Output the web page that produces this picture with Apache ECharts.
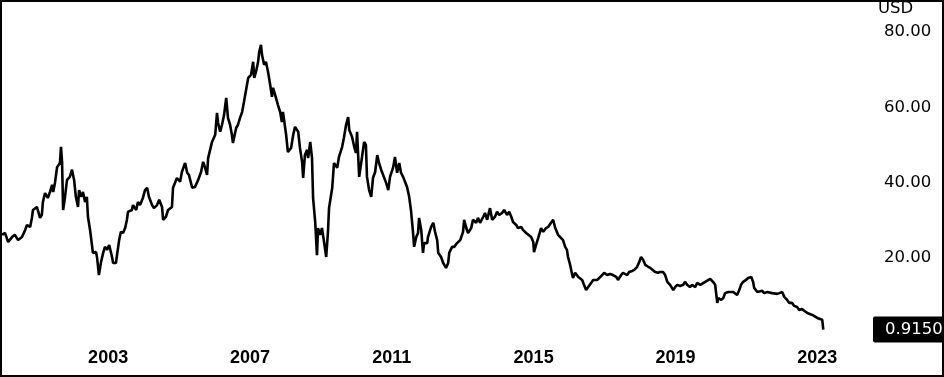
<!DOCTYPE html>
<html><head><meta charset="utf-8">
<script src="https://cdn.jsdelivr.net/npm/echarts@6/dist/echarts.min.js"></script>
<style>html,body{margin:0;padding:0;background:#fff}#c{width:944px;height:377px}</style>
</head><body><div id="c"></div>
<script>
// decimal years
const dates = [
2000.01,2000.09,2000.18,2000.29,2000.37,2000.46,2000.57,2000.66,2000.71,2000.80,2000.85,2000.88,2000.99,2001.02,2001.08,2001.13,2001.16,2001.22,2001.30,2001.36,2001.42,2001.45,2001.50,2001.56,2001.64,2001.67,2001.70,2001.73,2001.78,2001.84,2001.92,2001.98,2002.04,2002.09,2002.15,2002.18,2002.24,2002.29,2002.35,2002.40,2002.43,2002.49,2002.55,2002.57,2002.66,2002.69,2002.74,2002.80,2002.86,2002.91,2002.97,2003.03,2003.11,2003.14,2003.22,2003.25,2003.31,2003.36,2003.42,2003.48,2003.53,2003.56,2003.67,2003.70,2003.79,2003.84,2003.90,2003.98,2004.04,2004.10,2004.15,2004.24,2004.29,2004.38,2004.44,2004.52,2004.55,2004.63,2004.69,
2004.80,2004.83,2004.94,2005.03,2005.08,2005.17,2005.23,2005.28,2005.37,2005.45,2005.54,2005.62,2005.68,2005.73,2005.79,2005.82,2005.93,2006.02,2006.07,2006.10,2006.16,2006.21,2006.27,2006.33,2006.38,2006.44,2006.49,2006.52,2006.61,2006.66,2006.72,2006.78,2006.83,2006.89,2006.95,2007.03,2007.09,2007.12,2007.17,2007.23,2007.26,2007.31,2007.34,2007.40,2007.45,2007.51,2007.57,2007.62,2007.65,2007.71,2007.79,2007.85,2007.90,2007.93,2008.02,2008.07,2008.16,2008.22,2008.27,2008.36,2008.41,2008.47,2008.50,2008.55,2008.61,2008.64,2008.70,2008.75,2008.78,2008.84,2008.89,2008.92,2008.98,2009.03,2009.09,2009.15,2009.20,2009.23,2009.32,
2009.37,2009.46,2009.51,2009.60,2009.65,2009.71,2009.77,2009.80,2009.88,2009.94,2009.99,2010.02,2010.08,2010.11,2010.16,2010.22,2010.27,2010.30,2010.36,2010.42,2010.47,2010.53,2010.59,2010.64,2010.70,2010.75,2010.84,2010.90,2010.95,2011.04,2011.09,2011.15,2011.21,2011.26,2011.32,2011.37,2011.43,2011.49,2011.54,2011.60,2011.63,2011.69,2011.74,2011.77,2011.83,2011.88,2011.91,2012.00,2012.02,2012.11,2012.17,2012.22,2012.28,2012.31,2012.39,2012.45,2012.53,2012.59,2012.62,2012.70,2012.76,2012.84,2012.93,2013.01,2013.04,2013.10,2013.15,2013.24,2013.29,2013.38,2013.43,2013.49,2013.58,2013.63,2013.69,2013.77,2013.83,2013.91,2013.97,
2014.03,2014.11,2014.17,2014.25,2014.31,2014.37,2014.42,2014.51,2014.56,2014.65,2014.70,2014.79,2014.84,2014.93,2014.99,2015.01,2015.07,2015.13,2015.21,2015.27,2015.35,2015.41,2015.49,2015.55,2015.61,2015.69,2015.75,2015.83,2015.89,2015.94,2015.97,2016.03,2016.09,2016.11,2016.17,2016.26,2016.31,2016.37,2016.42,2016.48,2016.54,2016.62,2016.68,2016.79,2016.85,2016.93,2016.99,2017.07,2017.16,2017.24,2017.33,2017.38,2017.47,2017.52,2017.64,2017.69,2017.78,2017.84,2017.92,2017.98,2018.03,2018.09,2018.15,2018.23,2018.29,2018.34,2018.43,2018.51,2018.57,
2018.65,2018.71,2018.77,2018.85,2018.94,2018.99,2019.05,2019.13,2019.22,2019.27,2019.33,2019.41,2019.47,2019.56,2019.61,2019.70,2019.75,2019.84,2019.89,2019.98,2020.06,2020.12,2020.18,2020.21,2020.29,2020.35,2020.40,2020.49,2020.54,2020.63,2020.68,2020.74,2020.80,2020.85,2020.91,2020.99,2021.05,2021.14,2021.19,2021.22,2021.31,2021.36,2021.45,2021.50,2021.59,2021.64,2021.73,2021.78,2021.87,2021.93,2022.01,2022.07,2022.15,2022.21,2022.29,2022.35,2022.43,2022.49,2022.57,2022.63,2022.72,2022.77,2022.86,2022.91,2023.00,2023.05,2023.14,2023.17
];
const prices = [
26.1,26.6,24.2,25.5,26.1,24.7,25.5,27.4,28.7,28.2,30.6,32.7,33.5,34.0,30.6,31.4,34.8,37.2,35.9,37.5,39.4,37.5,39.9,44.1,45.2,49.5,45.5,32.7,35.9,40.7,41.5,43.4,40.7,36.2,33.5,38.0,36.2,37.5,34.8,36.2,30.9,27.4,22.9,21.3,21.5,19.9,15.4,18.9,21.3,22.9,22.1,23.4,20.2,18.6,18.6,20.7,24.7,26.9,26.6,27.9,30.1,32.2,32.7,34.0,32.7,34.8,34.0,35.9,38.0,38.6,36.2,34.0,33.2,34.0,35.4,33.5,30.1,30.9,32.7,
33.5,38.6,41.2,40.2,42.8,45.2,42.6,42.0,38.6,38.8,40.7,42.8,45.5,44.1,42.0,46.5,50.8,52.7,58.5,55.9,53.5,55.3,58.0,62.5,57.2,55.3,52.7,50.5,54.5,55.3,57.2,58.8,61.4,64.6,67.8,68.6,72.1,67.8,69.4,72.1,74.7,76.6,73.9,71.3,72.1,69.4,66.0,62.8,65.2,63.3,60.6,58.8,56.1,58.8,52.7,48.1,49.2,52.7,54.8,53.5,49.2,45.5,41.2,47.3,48.7,46.5,50.8,46.5,35.9,29.5,20.7,27.9,26.1,27.9,24.2,20.2,26.9,33.2,38.6,
45.2,43.9,46.8,49.5,51.9,55.3,57.4,54.0,52.1,49.5,47.9,53.5,41.5,41.2,46.8,50.8,50.0,41.5,38.0,36.2,41.2,42.8,47.3,45.2,43.4,43.4,39.9,38.0,41.5,44.1,46.8,42.6,45.2,42.6,41.5,42.0,38.8,36.2,32.7,26.6,22.9,25.5,26.6,30.6,27.4,21.3,23.9,23.9,25.5,28.2,29.3,26.9,24.7,21.3,20.2,18.6,17.3,18.6,21.3,22.9,22.9,23.9,24.7,26.9,30.1,27.9,26.6,27.9,30.1,29.3,30.6,29.3,30.9,31.9,30.1,33.2,30.1,30.9,32.2,
31.4,31.9,32.7,31.4,32.2,30.9,29.5,28.7,27.9,28.2,27.4,26.6,26.9,25.5,24.2,21.5,23.4,25.3,27.9,26.9,27.9,28.2,29.3,30.1,27.9,26.1,25.5,24.7,22.9,22.1,20.2,18.1,15.4,14.6,16.0,14.9,15.4,14.1,12.8,11.4,12.2,13.3,14.1,14.1,14.6,15.4,16.0,15.4,15.7,15.4,14.9,14.1,15.4,16.0,15.4,16.2,16.5,16.8,17.6,18.9,20.2,19.4,18.1,17.6,17.3,16.8,16.2,16.0,16.2,
16.2,15.4,13.6,12.8,11.4,12.2,12.8,12.5,12.8,13.6,12.8,12.2,12.8,12.2,13.3,12.8,13.3,13.6,14.1,14.4,13.6,12.8,8.0,9.3,8.8,9.3,10.6,10.9,11.4,10.9,10.6,10.1,11.4,12.8,13.6,14.1,14.6,14.9,13.6,12.0,10.9,11.4,11.2,10.6,10.9,10.6,10.6,10.6,10.4,10.6,10.9,9.6,8.8,8.0,8.0,7.2,6.9,6.1,6.4,5.9,5.3,5.3,4.8,4.3,4.0,4.3,3.5,0.915
];
const yTicks = [20, 40, 60, 80];
const xTicks = [2003, 2007, 2011, 2015, 2019, 2023];
const currency = 'USD';

const lastPrice = prices[prices.length - 1];
const seriesData = dates.map((d, i) => [d, prices[i]]);

const chart = echarts.init(document.getElementById('c'), null, {renderer: 'canvas'});
const yFont = {fontFamily: 'DejaVu Sans', fontSize: 16.5, color: '#000'};
chart.setOption({
  animation: false,
  backgroundColor: '#fff',
  title: {text: currency, left: 878, top: 0, padding: 0, textStyle: {fontFamily: 'DejaVu Sans', fontSize: 16.5, fontWeight: 'normal', color: '#000'}},
  grid: {left: 0, right: 70, top: 2, bottom: 36.5, containLabel: false, outerBoundsMode: 'none'},
  xAxis: {
    type: 'value', min: 1999.95, max: 2024.60,
    axisLine: {show: false}, axisTick: {show: false}, splitLine: {show: false},
    axisLabel: {customValues: xTicks, formatter: v => String(Math.round(v)), margin: 9,
      fontFamily: 'Liberation Sans', fontWeight: 'bold', fontSize: 18, color: '#000'}
  },
  yAxis: [{
    type: 'value', position: 'right', min: -2, max: 88,
    axisLine: {show: false}, axisTick: {show: false}, splitLine: {show: false},
    axisLabel: Object.assign({customValues: yTicks, formatter: v => v.toFixed(2), margin: 10}, yFont)
  }, {
    type: 'value', position: 'right', min: -2, max: 88,
    axisLine: {show: false}, axisTick: {show: false}, splitLine: {show: false},
    axisLabel: {customValues: [lastPrice], formatter: v => v.toFixed(4), margin: -1,
      fontFamily: 'DejaVu Sans', fontSize: 16.5, color: '#fff', backgroundColor: '#000',
      padding: [5, 4, 4, 12], borderRadius: 2}
  }],
  series: [{
    type: 'line', data: seriesData, showSymbol: false, symbol: 'none',
    lineStyle: {color: '#000', width: 2.6}, xAxisIndex: 0, yAxisIndex: 0
  }],
  graphic: [{
    type: 'rect', silent: true, z: 100,
    shape: {x: 1, y: 1, width: 942, height: 375},
    style: {fill: 'none', stroke: '#000', lineWidth: 2}
  }]
});
</script></body></html>
